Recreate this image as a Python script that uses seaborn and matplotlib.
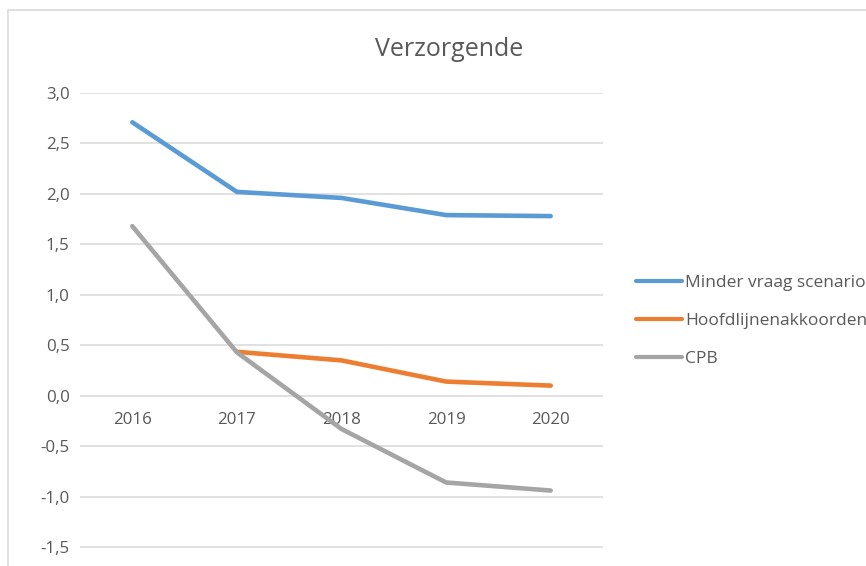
import pandas as pd
import matplotlib.pyplot as plt
import seaborn as sns
from matplotlib.patches import Rectangle

years = ["2016", "2017", "2018", "2019", "2020"]
minder_vraag = [2.71, 2.02, 1.96, 1.79, 1.78]
hoofdlijnen = [None, 0.435, 0.35, 0.14, 0.10]
cpb = [1.68, 0.43, -0.33, -0.86, -0.94]
series_names = ["Minder vraag scenario", "Hoofdlijnenakkoorden", "CPB"]
colors = ["#5b9bd5", "#ed7d31", "#a5a5a5"]
y_ticks = [3.0, 2.5, 2.0, 1.5, 1.0, 0.5, 0.0, -0.5, -1.0, -1.5]

rows = []
for name, vals in zip(series_names, [minder_vraag, hoofdlijnen, cpb]):
    for i, v in enumerate(vals):
        if v is not None:
            rows.append({"pos": i, "value": v, "serie": name})
df = pd.DataFrame(rows)

sns.set_style("white")
plt.rcParams["font.family"] = ["Open Sans", "DejaVu Sans"]
text_col = "#595959"

fig = plt.figure(figsize=(8.66, 5.66), dpi=100)
fig.patches.append(Rectangle((8 / 866, -0.1), 2, 1.1 - 10 / 566, transform=fig.transFigure,
                             fill=False, edgecolor="#d9d9d9", linewidth=1.2))

ax = fig.add_axes([80 / 866, 0, (603 - 80) / 866, 1 - 93 / 566])
sns.lineplot(data=df, x="pos", y="value", hue="serie", hue_order=series_names,
             palette=colors, linewidth=3.3, ax=ax, legend=False)
for s in ax.spines.values():
    s.set_visible(False)
ax.set_xlim(-0.5, 4.5)
ax.set_ylim(-1.5 - (566 - 547) / 101.2, 3.0)
ax.set_yticks(y_ticks)
ax.set_yticklabels([f"{t:.1f}".replace(".", ",") for t in y_ticks])
ax.yaxis.grid(True, color="#d9d9d9", linewidth=1.1)
ax.set_axisbelow(True)
ax.set_xticks(range(len(years)))
ax.set_xticklabels(years)
ax.spines["bottom"].set_position(("data", 0))
ax.tick_params(axis="x", length=0, pad=12, labelsize=12.2, labelcolor=text_col)
ax.tick_params(axis="y", length=0, pad=7.5, labelsize=12.2, labelcolor=text_col)
ax.set_xlabel("")
ax.set_ylabel("")

fig.text(449 / 866, 1 - 49 / 566, "Verzorgende", ha="center", va="center",
         fontsize=18, color=text_col)

handles = [plt.Line2D([], [], color=c, linewidth=3) for c in colors]
leg = fig.legend(handles, series_names, loc="upper left",
                 bbox_to_anchor=(636 / 866, 1 - 275 / 566), frameon=False,
                 fontsize=12.5, handlelength=2.65, handletextpad=0.17,
                 labelspacing=1.25, borderaxespad=0, borderpad=0)
for t in leg.get_texts():
    t.set_color(text_col)

fig.savefig("out.png", dpi=100)
